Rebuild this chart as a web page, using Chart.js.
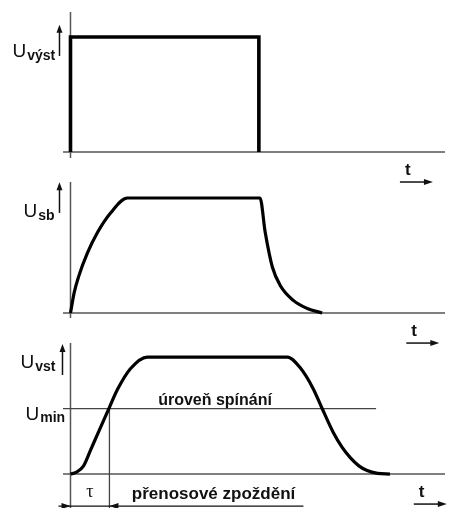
<!DOCTYPE html>
<html>
<head>
<meta charset="utf-8">
<script src="https://cdn.jsdelivr.net/npm/chart.js@4.4.1/dist/chart.umd.min.js"></script>
<style>
  html, body { margin: 0; padding: 0; background: #fff; }
  #wrap { position: relative; width: 451px; height: 508px; overflow: hidden; }
  canvas { position: absolute; left: 0; }
</style>
</head>
<body>
<div id="wrap">
  <canvas id="outChart" width="451" height="190" style="top:0px"></canvas>
  <canvas id="sbChart" width="451" height="185" style="top:175px"></canvas>
  <canvas id="vstChart" width="451" height="173" style="top:335px"></canvas>
</div>
<script>
// Waveform data (time in arbitrary units, voltage relative to full level)
const outT = [0, 0, 50.3, 50.3];
const outU = [0, 1, 1, 0];

const sbT = [0, 1.0, 2.1, 4.5, 7.2, 10.7, 15.2, 50.6, 52.0, 53.9, 56.0, 59.5, 63.2, 67.2];
const sbU = [0, 0.18, 0.31, 0.52, 0.70, 0.87, 1, 1, 0.70, 0.40, 0.24, 0.11, 0.04, 0];

const vstT = [0, 1.5, 3.5, 5.3, 7.2, 10.4, 12.5, 16.0, 20.5, 57.9, 61.3, 64.8, 67.2, 70.1, 72.5, 74.7, 77.0, 79.2, 82.0, 85.3];
const vstU = [0, 0.015, 0.07, 0.2, 0.34, 0.57, 0.72, 0.9, 1, 1, 0.91, 0.73, 0.56, 0.36, 0.23, 0.14, 0.07, 0.03, 0.006, 0];

const uMin = 0.56;        // switching level
const tau = 10.4;         // transfer delay
const levelEnd = 81.6;    // end of switching level line
const axisStart = -2;
const axisEnd = 100;

// Texts
const subLabels = ['výst', 'sb', 'vst'];
const levelText = 'úroveň spínání';
const delayText = 'přenosové zpoždění';
const minSub = 'min';

const FONT = '"Liberation Sans", Arial, sans-serif';

function pts(xs, ys) {
    return xs.map((x, i) => ({ x: x, y: ys[i] }));
}

function arrowHead(ctx, x, y, dir) {
    ctx.beginPath();
    if (dir === 'up') {
        ctx.moveTo(x, y - 3);
        ctx.lineTo(x - 3, y + 5);
        ctx.lineTo(x + 3, y + 5);
    } else if (dir === 'right') {
        ctx.moveTo(x, y);
        ctx.lineTo(x - 9, y - 3);
        ctx.lineTo(x - 9, y + 3);
    } else {
        ctx.moveTo(x, y);
        ctx.lineTo(x + 9, y - 3);
        ctx.lineTo(x + 9, y + 3);
    }
    ctx.closePath();
    ctx.fill();
}

// Draws axis labels, the small arrows and annotations
const labelPlugin = {
    id: 'labels',
    afterDatasetsDraw(chart, args, o) {
        const ctx = chart.ctx;
        const xs = chart.scales.x, ys = chart.scales.y;
        const x0 = xs.getPixelForValue(0);
        const y0 = ys.getPixelForValue(0);
        ctx.save();
        ctx.fillStyle = '#111';
        ctx.strokeStyle = '#111';
        ctx.textBaseline = 'alphabetic';

        // U with subscript
        const uy = ys.getPixelForValue(o.labelY);
        ctx.font = '19px ' + FONT;
        ctx.textAlign = 'left';
        ctx.fillText('U', x0 + o.uX, uy);
        const uw = ctx.measureText('U').width;
        ctx.font = 'bold 14px ' + FONT;
        ctx.fillText(o.sub, x0 + o.uX + uw + 1, uy + 3);

        // small upward arrow next to label
        ctx.lineWidth = 1.5;
        const ax = x0 + o.arrowX;
        ctx.beginPath();
        ctx.moveTo(ax, ys.getPixelForValue(o.arrow[1]));
        ctx.lineTo(ax, ys.getPixelForValue(o.arrow[0]) + 3);
        ctx.stroke();
        arrowHead(ctx, ax, ys.getPixelForValue(o.arrow[0]), 'up');

        // t with arrow
        ctx.font = 'bold 17px ' + FONT;
        ctx.fillText('t', xs.getPixelForValue(o.tX), y0 + 23);
        const ty = y0 + 30;
        ctx.beginPath();
        ctx.moveTo(xs.getPixelForValue(o.tX) - 5, ty);
        ctx.lineTo(xs.getPixelForValue(o.tX) + 22, ty);
        ctx.stroke();
        arrowHead(ctx, xs.getPixelForValue(o.tX) + 28, ty, 'right');

        if (o.extra) {
            const ly = ys.getPixelForValue(uMin);
            // level text
            ctx.font = 'bold 16px ' + FONT;
            ctx.textAlign = 'center';
            ctx.fillText(levelText, xs.getPixelForValue(38.6), ly - 4);
            // U min
            ctx.textAlign = 'left';
            ctx.font = '19px ' + FONT;
            ctx.fillText('U', x0 - 45, ly + 11);
            const w = ctx.measureText('U').width;
            ctx.font = 'bold 14px ' + FONT;
            ctx.fillText(minSub, x0 - 45 + w + 1, ly + 13);
            // tau and delay text
            const by = y0 + 25;
            ctx.font = '18px "Liberation Serif", "Times New Roman", serif';
            ctx.textAlign = 'center';
            ctx.fillText('τ', (x0 + xs.getPixelForValue(tau)) / 2, by - 2);
            ctx.font = 'bold 17px ' + FONT;
            ctx.fillText(delayText, xs.getPixelForValue(38.2), by);
            // dimension line
            const dy = y0 + 32;
            ctx.lineWidth = 1.3;
            ctx.beginPath();
            ctx.moveTo(x0 - 12, dy);
            ctx.lineTo(xs.getPixelForValue(62.2), dy);
            ctx.stroke();
            arrowHead(ctx, x0, dy, 'right');
            arrowHead(ctx, xs.getPixelForValue(tau), dy, 'left');
        }
        ctx.restore();
    }
};

function axisSets(yMin, yMax) {
    return [{
        data: pts([axisStart, axisEnd], [0, 0]),
        borderColor: '#555',
        borderWidth: 1.5
    }, {
        data: pts([0, 0], [yMin, yMax]),
        borderColor: '#555',
        borderWidth: 1.5
    }];
}

function makeChart(id, curves, yMin, yMax, padding, labels) {
    return new Chart(document.getElementById(id), {
        type: 'line',
        data: { datasets: curves.concat(axisSets(yMin, yMax)) },
        plugins: [labelPlugin],
        options: {
            responsive: false,
            animation: false,
            layout: { padding: padding },
            elements: { point: { radius: 0 } },
            datasets: { line: { clip: false, fill: false } },
            plugins: {
                legend: { display: false },
                tooltip: { enabled: false },
                labels: labels
            },
            scales: {
                x: { type: 'linear', min: axisStart, max: axisEnd, display: false },
                y: { type: 'linear', min: yMin, max: yMax, display: false }
            }
        }
    });
}

const curveStyle = { borderColor: '#000', borderWidth: 3.2, borderJoinStyle: 'round' };

// Output voltage - rectangular pulse
const outChart = makeChart('outChart', [
    { ...curveStyle, data: pts(outT, outU), tension: 0, borderWidth: 3.6, borderJoinStyle: 'miter' }
], -0.052, 1.217, { left: 63, right: 6, top: 12, bottom: 32 },
    { sub: subLabels[0], uX: -58, labelY: 0.83, arrowX: -11, arrow: [1.08, 0.835], tX: 89.3 });

// Bus voltage
const sbChart = makeChart('sbChart', [
    { ...curveStyle, data: pts(sbT, sbU), cubicInterpolationMode: 'monotone' }
], -0.043, 1.139, { left: 63, right: 6, top: 7, bottom: 42 },
    { sub: subLabels[1], uX: -47, labelY: 0.835, arrowX: -11, arrow: [1.11, 0.87], tX: 91 });

// Input voltage with switching level
const vstChart = makeChart('vstChart', [
    { ...curveStyle, data: pts(vstT, vstU), cubicInterpolationMode: 'monotone' },
    { data: pts([axisStart, levelEnd], [uMin, uMin]), borderColor: '#444', borderWidth: 1.3 },
    { data: pts([tau, tau], [uMin, -0.29]), borderColor: '#444', borderWidth: 1.3 }
], -0.29, 1.12, { left: 63, right: 6, top: 8, bottom: 0 },
    { sub: subLabels[2], uX: -50, labelY: 0.906, arrowX: -8, arrow: [1.085, 0.846], tX: 93, extra: true });
</script>
</body>
</html>
